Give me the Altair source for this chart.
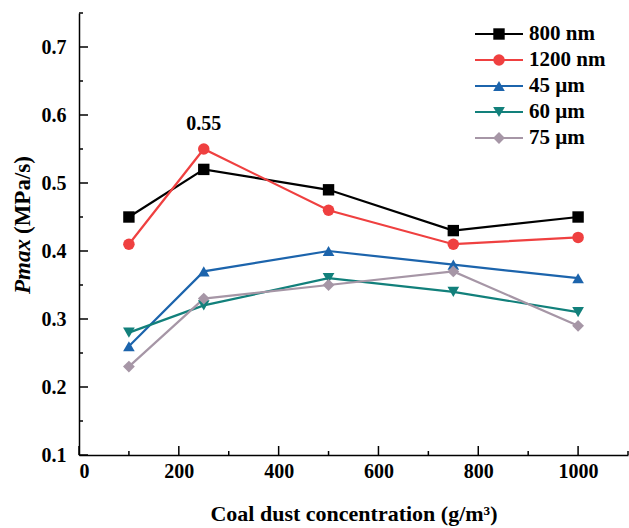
import altair as alt
import pandas as pd

# ---- data ----
concentration = [100, 250, 500, 750, 1000]
series_names = ["800 nm", "1200 nm", "45 µm", "60 µm", "75 µm"]
s800 = [0.45, 0.52, 0.49, 0.43, 0.45]
s1200 = [0.41, 0.55, 0.46, 0.41, 0.42]
s45 = [0.26, 0.37, 0.40, 0.38, 0.36]
s60 = [0.28, 0.32, 0.36, 0.34, 0.31]
s75 = [0.23, 0.33, 0.35, 0.37, 0.29]
colors = ["#000000", "#EF4040", "#1C64AC", "#12807B", "#A696A6"]
shapes = ["square", "circle", "triangle-up", "triangle-down", "diamond"]
marker_sizes = [130, 140, 280, 280, 200]

x_major = [0, 200, 400, 600, 800, 1000]
x_minor = [100, 300, 500, 700, 900, 1100]
y_major = [0.1, 0.2, 0.3, 0.4, 0.5, 0.6, 0.7]
y_minor = [0.15, 0.25, 0.35, 0.45, 0.55, 0.65, 0.75]

annot_x = [250]
annot_y = [0.55]
annot_t = ["0.55"]

FONT = "Liberation Serif"
W, H = 549, 442

rows = []
for name, vals in zip(series_names, [s800, s1200, s45, s60, s75]):
    for c, v in zip(concentration, vals):
        rows.append({"series": name, "conc": c, "pmax": v})
df = pd.DataFrame(rows)

xscale = alt.Scale(domain=[0, 1100], nice=False, zero=False)
yscale = alt.Scale(domain=[0.1, 0.75], nice=False, zero=False)
cscale = alt.Scale(domain=series_names, range=colors)
sscale = alt.Scale(domain=series_names, range=shapes)
zscale = alt.Scale(domain=series_names, range=marker_sizes)

xaxis = alt.Axis(values=x_major, format="d", tickSize=0, grid=False, labelFont=FONT,
                 labelFontSize=20, labelFontWeight="bold", labelColor="black",
                 labelPadding=6, domainColor="black", domainWidth=1.5,
                 title="Coal dust concentration (g/m³)", titleFont=FONT,
                 titleFontSize=22, titleFontWeight="bold", titleColor="black",
                 titlePadding=22)
yaxis = alt.Axis(values=y_major, format=".1f", tickSize=0, grid=False,
                 labelFont=FONT, labelFontSize=20, labelFontWeight="bold",
                 labelColor="black", labelPadding=13, domainColor="black",
                 domainWidth=1.5, title=None)

base = alt.Chart(df)
lines = base.mark_line(strokeWidth=2.2).encode(
    x=alt.X("conc:Q", scale=xscale, axis=xaxis),
    y=alt.Y("pmax:Q", scale=yscale, axis=yaxis),
    color=alt.Color("series:N", scale=cscale, legend=None),
    detail="series:N",
)
points = base.mark_point(filled=True, opacity=1).encode(
    x=alt.X("conc:Q", scale=xscale),
    y=alt.Y("pmax:Q", scale=yscale),
    color=alt.Color("series:N", scale=cscale, legend=None),
    shape=alt.Shape("series:N", scale=sscale, legend=None),
    size=alt.Size("series:N", scale=zscale, legend=None),
)

xmaj = alt.Chart(pd.DataFrame({"v": x_major})).mark_rule(color="black", strokeWidth=1.5).encode(
    x=alt.X("v:Q", scale=xscale), y=alt.value(H), y2=alt.value(H - 9))
xmin = alt.Chart(pd.DataFrame({"v": x_minor})).mark_rule(color="black", strokeWidth=1.5).encode(
    x=alt.X("v:Q", scale=xscale), y=alt.value(H), y2=alt.value(H - 4))
ymaj = alt.Chart(pd.DataFrame({"v": y_major})).mark_rule(color="black", strokeWidth=1.5).encode(
    y=alt.Y("v:Q", scale=yscale), x=alt.value(0), x2=alt.value(9))
ymin = alt.Chart(pd.DataFrame({"v": y_minor})).mark_rule(color="black", strokeWidth=1.5).encode(
    y=alt.Y("v:Q", scale=yscale), x=alt.value(0), x2=alt.value(4))

annot = alt.Chart(pd.DataFrame({"x": annot_x, "y": annot_y, "t": annot_t})).mark_text(
    font=FONT, fontSize=20, fontWeight="bold", color="black", dy=-25
).encode(x=alt.X("x:Q", scale=xscale), y=alt.Y("y:Q", scale=yscale), text="t:N")

ytitle_a = alt.Chart(pd.DataFrame({"t": ["Pmax"]})).mark_text(
    font=FONT, fontSize=23, fontWeight="bold", fontStyle="italic", color="black",
    angle=270, align="right", baseline="middle"
).encode(text="t:N", x=alt.value(-56), y=alt.value(226))
ytitle_b = alt.Chart(pd.DataFrame({"t": ["(MPa/s)"]})).mark_text(
    font=FONT, fontSize=23, fontWeight="bold", color="black",
    angle=270, align="left", baseline="middle"
).encode(text="t:N", x=alt.value(-56), y=alt.value(221))

main = alt.layer(lines, points, xmaj, xmin, ymaj, ymin, annot, ytitle_a, ytitle_b)

# ---- manual legend ----
leg_df = pd.DataFrame({"series": series_names, "idx": list(range(len(series_names)))})
leg_y = alt.Y("idx:Q", scale=alt.Scale(domain=[0, 4], range=[21, 125], zero=False, nice=False), axis=None)
leg_rule = alt.Chart(leg_df).mark_rule(strokeWidth=2.2).encode(
    y=leg_y, x=alt.value(396), x2=alt.value(444),
    color=alt.Color("series:N", scale=cscale, legend=None))
leg_pt = alt.Chart(leg_df).mark_point(filled=True, opacity=1).encode(
    y=leg_y, x=alt.value(420),
    color=alt.Color("series:N", scale=cscale, legend=None),
    shape=alt.Shape("series:N", scale=sscale, legend=None),
    size=alt.Size("series:N", scale=zscale, legend=None))
leg_txt = alt.Chart(leg_df).mark_text(
    font=FONT, fontSize=21, fontWeight="bold", color="black", align="left", baseline="middle"
).encode(y=leg_y, x=alt.value(450), text="series:N")
legend = alt.layer(leg_rule, leg_pt, leg_txt)

chart = alt.layer(main, legend).resolve_scale(y="independent").properties(
    width=W, height=H,
    autosize=alt.AutoSizeParams(type="none"),
    padding={"left": 79, "top": 13, "right": 1, "bottom": 73},
    background="white",
).configure_view(stroke=None)

chart.save("out.html", embed_options={"renderer": "svg", "actions": False})
